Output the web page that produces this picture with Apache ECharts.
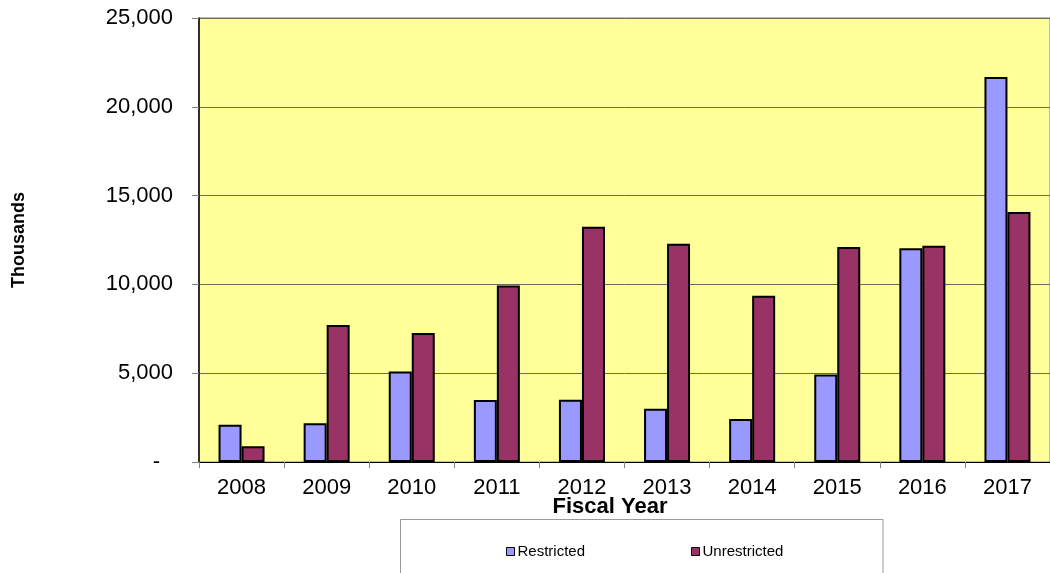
<!DOCTYPE html>
<html>
<head>
<meta charset="utf-8">
<script src="https://cdn.jsdelivr.net/npm/echarts@6/dist/echarts.min.js"></script>
<style>
html,body{margin:0;padding:0;background:#fff;}
#c{width:1050px;height:573px;}
</style>
</head>
<body>
<div id="c"></div>
<script>
const years = ['2008','2009','2010','2011','2012','2013','2014','2015','2016','2017'];
const restricted = [2100, 2180, 5100, 3490, 3510, 3000, 2420, 4930, 12030, 21680];
const unrestricted = [880, 7710, 7270, 9940, 13250, 12290, 9360, 12100, 12180, 14080];
const seriesNames = ['Restricted', 'Unrestricted'];

const FONT = '"Liberation Sans", Arial, sans-serif';
const chart = echarts.init(document.getElementById('c'), null, {renderer: 'canvas'});
chart.setOption({
  animation: false,
  backgroundColor: '#ffffff',
  textStyle: {fontFamily: FONT, color: '#000'},
  grid: {
    left: 199, top: 18, width: 855, height: 444,
    show: true, backgroundColor: '#FFFF99', borderColor: '#808080', borderWidth: 1
  },
  graphic: [
    {type: 'rect', z: 0, shape: {x: 400.5, y: 519.5, width: 482.5, height: 80},
     style: {fill: '#ffffff', stroke: '#9a9a9a', lineWidth: 1}},
    {type: 'text', z: 5, style: {x: 610, y: 507, text: 'Fiscal Year', align: 'center', verticalAlign: 'middle',
     font: 'bold 22px "Liberation Sans", Arial, sans-serif', fill: '#000'}}
  ],
  legend: {
    data: seriesNames,
    left: 501, top: 539,
    itemWidth: 8, itemHeight: 8, itemGap: 106,
    icon: 'rect',
    itemStyle: {borderColor: '#000', borderWidth: 1},
    textStyle: {fontFamily: FONT, fontSize: 15, color: '#000', padding: [0, 0, 0, -2]}
  },
  xAxis: {
    type: 'category',
    data: years,
    axisLine: {lineStyle: {color: '#000', width: 1}},
    axisTick: {show: true, length: 6, lineStyle: {color: '#808080'}},
    axisLabel: {fontFamily: FONT, fontSize: 22, color: '#000', margin: 15}
  },
  yAxis: {
    type: 'value',
    min: 0, max: 25000, interval: 5000,
    name: 'Thousands',
    nameLocation: 'middle',
    nameGap: 171,
    nameRotate: 90,
    nameTextStyle: {fontFamily: FONT, fontSize: 18, fontWeight: 'bold', color: '#000'},
    axisLine: {show: true, lineStyle: {color: '#000', width: 1.5}},
    axisTick: {show: true, length: 7, lineStyle: {color: '#808080'}},
    splitLine: {show: true, lineStyle: {color: '#6b6b58', width: 1}},
    axisLabel: {
      fontFamily: FONT, fontSize: 22, color: '#000', margin: 26,
      formatter: function (v) {
        if (v === 0) return '{z|-}';
        return v.toString().replace(/\B(?=(\d{3})+(?!\d))/g, ',');
      },
      rich: {z: {fontFamily: FONT, fontSize: 22, color: '#000', padding: [0, 13, 0, 0]}}
    }
  },
  series: [
    {name: seriesNames[0], type: 'bar', data: restricted, barWidth: 23, barGap: '0%',
     itemStyle: {color: '#9999FF', borderColor: '#000', borderWidth: 2}},
    {name: seriesNames[1], type: 'bar', data: unrestricted, barWidth: 23, barGap: '0%',
     itemStyle: {color: '#993366', borderColor: '#000', borderWidth: 2}}
  ]
});
</script>
</body>
</html>
